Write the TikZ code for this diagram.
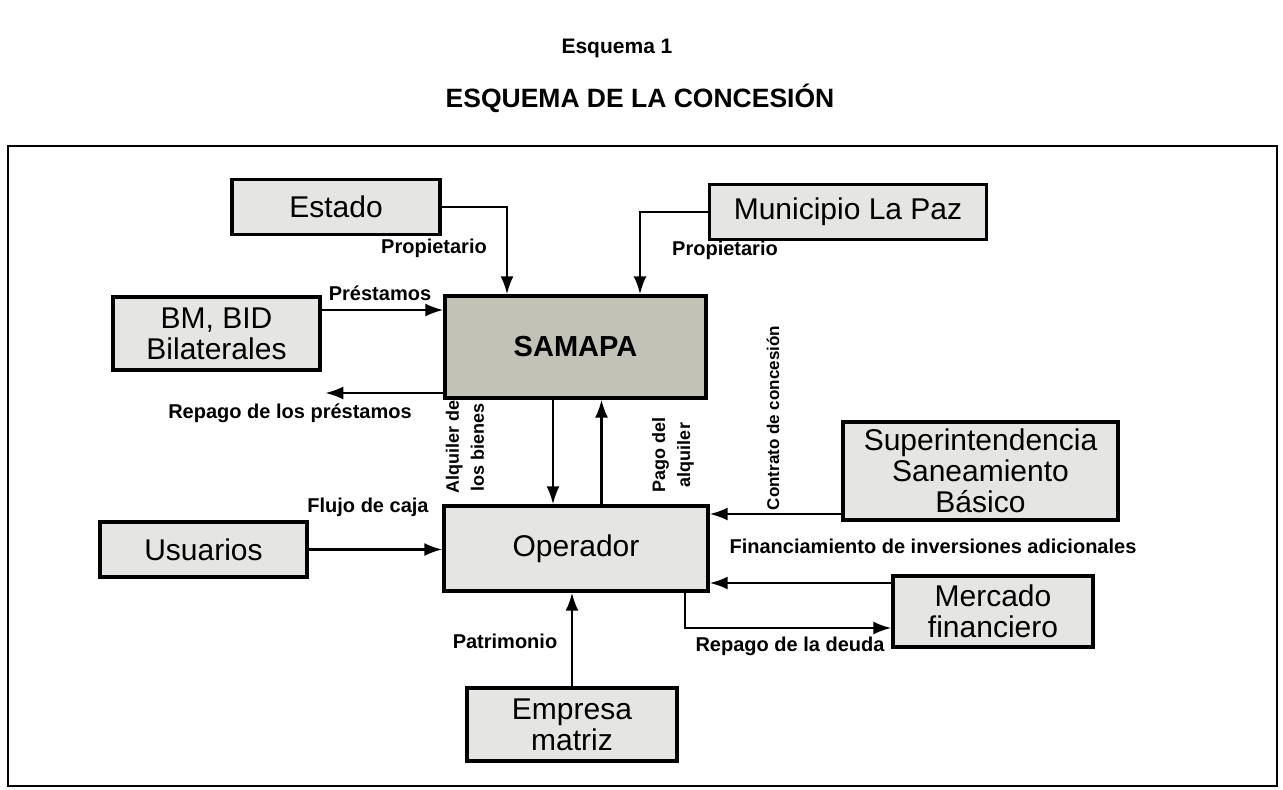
\documentclass[tikz,border=0pt]{standalone}
\usepackage{fontspec}
\setmainfont{Liberation Sans}
\usetikzlibrary{arrows.meta,calc}
\tikzset{>={Latex[length=18pt,width=13pt]}}
\definecolor{boxgray}{RGB}{229,229,227}
\definecolor{samgray}{RGB}{194,194,182}
\tikzstyle{ente}=[rectangle,draw=black,fill=boxgray,line width=3.4pt,inner sep=2pt,align=center,font=\fontsize{30}{31}\selectfont]
\tikzstyle{lbl}=[inner sep=1pt,align=center,font=\bfseries\fontsize{20}{24}\selectfont]
\tikzstyle{vlbl}=[inner sep=1pt,align=center,rotate=90,font=\bfseries\fontsize{18}{25}\selectfont]
\tikzstyle{flujo}=[->,line width=2.3pt]

\begin{document}
\begin{tikzpicture}[x=1pt,y=-1pt]
\useasboundingbox (0,0) rectangle (1283,790);

\node[font=\bfseries\fontsize{21}{24}\selectfont] (tit1) at (617,48) {Esquema 1};
\node[font=\bfseries\fontsize{26.5}{30}\selectfont] (tit2) at (640,98) {ESQUEMA DE LA CONCESIÓN};

\draw[line width=2pt] (8,146) rectangle (1277,786);

% entes
\node[ente,minimum width=208pt,minimum height=55pt] (estado) at (336,207) {Estado};
\node[ente,minimum width=277pt,minimum height=55pt] (muni) at (848,212) {Municipio La Paz};
\node[ente,fill=samgray,minimum width=261pt,minimum height=102pt,font=\bfseries\fontsize{29}{31}\selectfont] (samapa) at (575.5,347) {SAMAPA};
\node[ente,minimum width=207pt,minimum height=73pt] (bm) at (216.5,333.5) {BM, BID\\Bilaterales};
\node[ente,minimum width=264pt,minimum height=85pt] (oper) at (576,548.5) {Operador};
\node[ente,minimum width=207pt,minimum height=55pt] (usu) at (203.5,549.5) {Usuarios};
\node[ente,minimum width=275pt,minimum height=98pt] (superint) at (980.5,471) {Superintendencia\\Saneamiento\\Básico};
\node[ente,minimum width=200pt,minimum height=71pt] (merc) at (993,611.5) {Mercado\\financiero};
\node[ente,minimum width=210pt,minimum height=73pt] (emp) at (572,724.5) {Empresa\\matriz};

% flujos
\draw[flujo] (estado.east) -| ([xshift=-68.5pt]samapa.north);
\draw[flujo] (muni.west) -| ([xshift=64.5pt]samapa.north);
\coordinate (pr) at ([yshift=23.5pt]bm.east);
\draw[flujo] (pr) -- (pr -| samapa.west);
\draw[flujo] ([yshift=-46pt]samapa.west) -- ++(-118,0) coordinate (rp);
\coordinate (al) at ([xshift=-22.5pt]samapa.south);
\draw[flujo] (al) -- (al |- oper.north);
\coordinate (pa) at ([xshift=25.5pt]oper.north);
\draw[flujo] (pa) -- (pa |- samapa.south);
\coordinate (co) at ([yshift=-43pt]superint.west);
\draw[flujo] (co) -- (co -| oper.east);
\coordinate (fi) at ([yshift=28.5pt]merc.west);
\draw[flujo] (fi) -- (fi -| oper.east);
\draw[flujo] ([xshift=109pt]oper.south) |- ([yshift=-16.5pt]merc.west);
\draw[flujo] (usu.east) -- (usu.east -| oper.west);
\draw[flujo] (emp.north) -- (emp.north |- oper.south);

% etiquetas
\node[lbl] (l1) at (434,248) {Propietario};
\node[lbl] (l2) at (725,250) {Propietario};
\node[lbl] (l3) at (380,293) {Préstamos};
\node[lbl] (l4) at (290,413) {Repago de los préstamos};
\node[vlbl] (l5) at (465,447) {Alquiler de\\los bienes};
\node[vlbl] (l6) at (673,455) {Pago del\\alquiler};
\node[vlbl,font=\bfseries\fontsize{17}{20}\selectfont] (l7) at (773,418) {Contrato de concesión};
\node[lbl] (l8) at (368,507) {Flujo de caja};
\node[lbl] (l9) at (933,546) {Financiamiento de inversiones adicionales};
\node[lbl] (l10) at (790,646) {Repago de la deuda};
\node[lbl] (l11) at (505,641) {Patrimonio};

\end{tikzpicture}
\end{document}
